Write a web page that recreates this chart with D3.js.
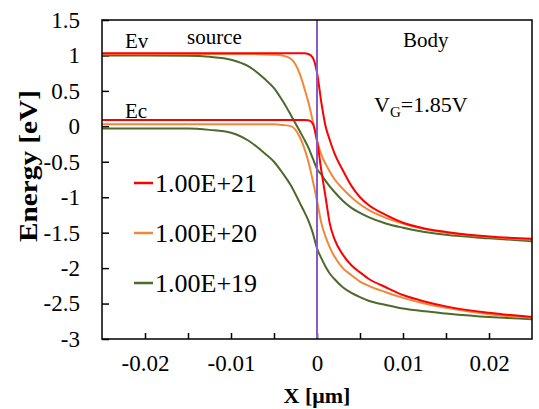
<!DOCTYPE html>
<html>
<head>
<meta charset="utf-8">
<script src="https://cdn.jsdelivr.net/npm/d3@7"></script>
<style>
    body { margin: 0; background: #fff; }
    svg text { font-family: "Liberation Serif", "Times New Roman", "DejaVu Serif", serif; }
</style>
</head>
<body>
<svg id="chart" width="539" height="409"></svg>
<script>
// position along X [um]
const xPos = [-0.025, -0.02, -0.015, -0.0125, -0.01, -0.008, -0.006, -0.005, -0.004, -0.003,
    -0.002, -0.0015, -0.001, -0.0005, 0, 0.0005, 0.001, 0.0015, 0.002, 0.003,
    0.004, 0.005, 0.006, 0.008, 0.01, 0.0125, 0.015, 0.02, 0.025];

// 1.00E+21
const evRed = [1.03, 1.03, 1.03, 1.03, 1.03, 1.03, 1.03, 1.03, 1.03, 1.03,
    1.03, 1.03, 1.02, 0.97, 0.76, 0.34, 0.0, -0.2, -0.37, -0.62,
    -0.84, -1.0, -1.11, -1.25, -1.36, -1.44, -1.49, -1.555, -1.585];
const ecRed = [0.09, 0.09, 0.09, 0.09, 0.09, 0.09, 0.09, 0.09, 0.09, 0.09,
    0.09, 0.09, 0.085, 0.04, -0.2, -0.62, -1.0, -1.38, -1.58, -1.81,
    -1.96, -2.06, -2.15, -2.27, -2.38, -2.47, -2.54, -2.63, -2.69];

// 1.00E+20
const evOrange = [1.02, 1.02, 1.02, 1.02, 1.02, 1.02, 1.015, 1.01, 1.0, 0.95,
    0.74, 0.55, 0.34, 0.08, -0.2, -0.4, -0.53, -0.64, -0.74, -0.88,
    -1.0, -1.1, -1.18, -1.29, -1.37, -1.45, -1.5, -1.56, -1.6];
const ecOrange = [0.03, 0.03, 0.03, 0.03, 0.03, 0.03, 0.03, 0.03, 0.02, 0.0,
    -0.15, -0.3, -0.5, -0.76, -1.05, -1.36, -1.56, -1.71, -1.83, -2.0,
    -2.1, -2.19, -2.25, -2.34, -2.42, -2.5, -2.56, -2.65, -2.7];

// 1.00E+19
const evGreen = [1.0, 1.0, 0.995, 0.98, 0.94, 0.85, 0.66, 0.54, 0.36, 0.15,
    -0.07, -0.18, -0.3, -0.45, -0.6, -0.68, -0.77, -0.85, -0.92, -1.05,
    -1.15, -1.22, -1.28, -1.37, -1.43, -1.49, -1.53, -1.58, -1.62];
const ecGreen = [-0.03, -0.03, -0.03, -0.05, -0.09, -0.2, -0.39, -0.5, -0.66, -0.84,
    -1.08, -1.2, -1.33, -1.5, -1.72, -1.86, -1.98, -2.08, -2.15, -2.27,
    -2.35, -2.41, -2.46, -2.52, -2.57, -2.61, -2.64, -2.69, -2.72];

const legendLabels = ['1.00E+21', '1.00E+20', '1.00E+19'];
const colors = ['#ff0000', '#f0883a', '#4b6a2c'];
const yTicks = [1.5, 1, 0.5, 0, -0.5, -1, -1.5, -2, -2.5, -3];
const xLabelTicks = [-0.02, -0.01, 0, 0.01, 0.02];
const xMinorTicks = [-0.015, -0.005, 0.005, 0.015];

const serif = '"Liberation Serif", "Times New Roman", "DejaVu Serif", serif';

const svg = d3.select('#chart')
    .attr('font-family', serif);
const margin = {top: 20, right: 7, bottom: 70, left: 102};
const width = 539 - margin.left - margin.right;
const height = 409 - margin.top - margin.bottom;

const chart = svg.append('g')
    .attr('transform', `translate(${margin.left}, ${margin.top})`);

const xScale = d3.scaleLinear()
    .domain([-0.025, 0.025])
    .range([0, width]);

const yScale = d3.scaleLinear()
    .domain([-3, 1.5])
    .range([height, 0]);

chart.append('defs').append('clipPath')
    .attr('id', 'plot-clip')
    .append('rect')
    .attr('width', width)
    .attr('height', height);

// axes with ticks pointing inside
const yAxis = chart.append('g')
    .call(d3.axisLeft(yScale)
        .tickValues(yTicks)
        .tickSize(-7)
        .tickPadding(22)
        .tickFormat(d => String(d)));

const xAxis = chart.append('g')
    .attr('transform', `translate(0, ${height})`)
    .call(d3.axisBottom(xScale)
        .tickValues(xLabelTicks)
        .tickSize(-6)
        .tickPadding(16)
        .tickFormat(d => d === 0 ? '0' : d.toFixed(2)));

chart.append('g')
    .attr('transform', `translate(0, ${height})`)
    .call(d3.axisBottom(xScale)
        .tickValues(xMinorTicks)
        .tickSize(-6)
        .tickFormat(''))
    .select('.domain').remove();

[yAxis, xAxis].forEach(ax => {
    ax.attr('font-family', serif).attr('font-size', 23);
    ax.select('.domain').remove();
    ax.selectAll('text').attr('fill', '#000');
});
chart.selectAll('.tick line').attr('stroke', '#000').attr('stroke-width', 1.5);

// curves
const line = d3.line()
    .x(d => xScale(d[0]))
    .y(d => yScale(d[1]))
    .curve(d3.curveMonotoneX);

const series = [
    {values: evGreen, color: colors[2]},
    {values: ecGreen, color: colors[2]},
    {values: evOrange, color: colors[1]},
    {values: ecOrange, color: colors[1]},
    {values: evRed, color: colors[0]},
    {values: ecRed, color: colors[0]}
];

const curves = chart.append('g').attr('clip-path', 'url(#plot-clip)');

curves.selectAll('path')
    .data(series)
    .enter()
    .append('path')
    .attr('fill', 'none')
    .attr('stroke', s => s.color)
    .attr('stroke-width', 2)
    .attr('d', s => line(xPos.map((x, i) => [x, s.values[i]])));

// junction line at x = 0
curves.append('line')
    .attr('x1', xScale(0))
    .attr('x2', xScale(0))
    .attr('y1', 0)
    .attr('y2', height)
    .attr('stroke', '#8c5ac8')
    .attr('stroke-width', 2);

// plot frame
chart.append('rect')
    .attr('width', width)
    .attr('height', height)
    .attr('fill', 'none')
    .attr('stroke', '#000')
    .attr('stroke-width', 1.5);

// legend
const legend = chart.selectAll('.legend')
    .data(legendLabels)
    .enter()
    .append('g')
    .attr('class', 'legend')
    .attr('transform', (d, i) => `translate(32, ${163 + i * 50})`);

legend.append('line')
    .attr('x1', 0)
    .attr('x2', 19)
    .attr('stroke', (d, i) => colors[i])
    .attr('stroke-width', 2.5);

legend.append('text')
    .attr('x', 21)
    .attr('y', 9)
    .attr('font-size', 26)
    .text(d => d);

// annotations
const notes = [
    {text: 'Ev', x: 23, y: 28, size: 21},
    {text: 'Ec', x: 23, y: 98, size: 21},
    {text: 'source', x: 85, y: 24, size: 21},
    {text: 'Body', x: 301, y: 27, size: 21}
];

chart.selectAll('.note')
    .data(notes)
    .enter()
    .append('text')
    .attr('class', 'note')
    .attr('x', d => d.x)
    .attr('y', d => d.y)
    .attr('font-size', d => d.size)
    .text(d => d.text);

const vg = chart.append('text')
    .attr('x', 272)
    .attr('y', 92)
    .attr('font-size', 22);
vg.append('tspan').text('V');
vg.append('tspan').attr('font-size', 15).attr('dy', 5).text('G');
vg.append('tspan').attr('dy', -5).text('=1.85V');

// axis titles
svg.append('text')
    .attr('transform', 'rotate(-90)')
    .attr('x', -166)
    .attr('y', 37)
    .attr('text-anchor', 'middle')
    .attr('font-size', 26)
    .attr('font-weight', 'bold')
    .attr('textLength', 152)
    .attr('lengthAdjust', 'spacingAndGlyphs')
    .text('Energy [eV]');

svg.append('text')
    .attr('x', margin.left + xScale(0))
    .attr('y', 403)
    .attr('text-anchor', 'middle')
    .attr('font-size', 22)
    .attr('font-weight', 'bold')
    .text('X [μm]');
</script>
</body>
</html>
